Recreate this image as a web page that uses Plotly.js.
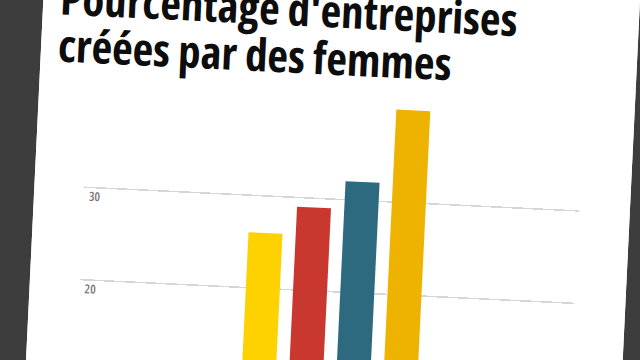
<!DOCTYPE html>
<html><head><meta charset="utf-8">
<script src="https://cdn.plot.ly/plotly-3.0.1.min.js"></script>
<style>
html,body{margin:0;padding:0;width:640px;height:360px;overflow:hidden;background:#3d3d3d}
#wrap{position:absolute;left:35px;top:-60px;width:596px;height:620px;transform-origin:285px 240px;transform:rotate(2.75deg);background:#fff}
#chart{width:596px;height:620px}
.gtitle, .ytick text{font-stretch:75% !important;}
</style></head><body>
<div id="wrap"><div id="chart"></div></div>
<script>
const titleText = "Pourcentage d'entreprises<br>créées par des femmes";
const categories = ["Barre 1", "Barre 2", "Barre 3", "Barre 4"];
const values = [26, 29, 32, 40];
const barColors = ["#fed200", "#c9382f", "#2d6a7f", "#eeb300"];
const yTicks = [20, 30];
const yTickLabels = ["20", "30"];

const trace = {
  type: "bar",
  x: categories,
  y: values,
  marker: {color: barColors, line: {width: 0}},
  hoverinfo: "none"
};

const layout = {
  width: 596, height: 620,
  margin: {l: 50, r: 51, t: 129, b: 84},
  paper_bgcolor: "#ffffff", plot_bgcolor: "#ffffff",
  showlegend: false,
  bargap: 0.28,
  title: {
    text: titleText,
    font: {family: "Open Sans, Noto Sans, sans-serif", size: 45, color: "#0d0d0d", weight: 700},
    xref: "container", x: 17 / 596, xanchor: "left",
    yref: "container", y: 1 - 87 / 620, yanchor: "top"
  },
  xaxis: {
    type: "category",
    range: [-3.875, 6.6],
    showgrid: false, zeroline: false, showline: false,
    showticklabels: false, ticks: ""
  },
  yaxis: {
    range: [0, 44],
    tickvals: yTicks, ticktext: yTickLabels,
    showgrid: true, gridcolor: "#d6d6d6", gridwidth: 1.5,
    zeroline: false, showline: false, ticks: "",
    ticklabelposition: "inside",
    ticklabelshift: 9,
    ticklabelstandoff: 2,
    tickfont: {family: "Open Sans, Noto Sans, sans-serif", size: 12.5, color: "#777777", weight: 600}
  }
};

Plotly.newPlot("chart", [trace], layout, {displayModeBar: false, staticPlot: true}).then(function () {
  // tighter leading between the two title lines, as in the reference
  const lines = document.querySelectorAll(".gtitle tspan.line");
  lines.forEach(function (t, i) { t.setAttribute("dy", (i * 1.05) + "em"); });
});
</script>
</body></html>
